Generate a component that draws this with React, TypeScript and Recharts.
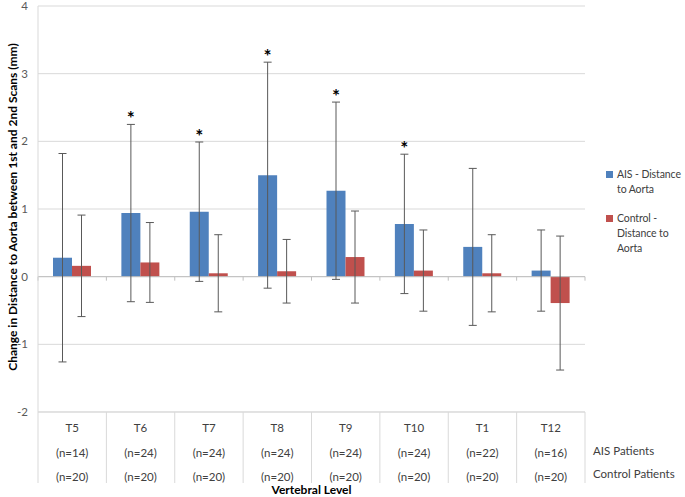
import React from 'react';
import {
  BarChart, Bar, XAxis, YAxis, CartesianGrid, ErrorBar, LabelList,
  ReferenceLine, Legend, Label,
} from 'recharts';

// Vertebral levels and sample sizes
const levels = ['T5', 'T6', 'T7', 'T8', 'T9', 'T10', 'T1', 'T12'];
const aisN = ['n=14', 'n=24', 'n=24', 'n=24', 'n=24', 'n=24', 'n=22', 'n=16'];
const controlN = ['n=20', 'n=20', 'n=20', 'n=20', 'n=20', 'n=20', 'n=20', 'n=20'];

// Mean change (mm) and SD for each group
const aisMean = [0.28, 0.94, 0.96, 1.5, 1.27, 0.78, 0.44, 0.09];
const aisSd = [1.54, 1.31, 1.03, 1.67, 1.31, 1.03, 1.16, 0.6];
const controlMean = [0.16, 0.21, 0.05, 0.08, 0.29, 0.09, 0.05, -0.39];
const controlSd = [0.75, 0.59, 0.57, 0.47, 0.68, 0.6, 0.57, 0.99];
const significant = [false, true, true, true, true, true, false, false];

const yTicks = [-2, -1, 0, 1, 2, 3, 4];

const AIS_COLOR = '#4F81BD';
const CONTROL_COLOR = '#C0504D';
const GRID = '#d9d9d9';
const FONT = 'Lato, "Open Sans", sans-serif';

const data = levels.map((level, i) => ({
  level,
  ais: aisMean[i],
  aisErr: aisSd[i],
  control: controlMean[i],
  controlErr: controlSd[i],
}));

// table under the plot: level, AIS n, control n, with cell borders
const TableTick = (props: any) => {
  const { x, y, index, payload, width, visibleTicksCount } = props;
  const half = width / visibleTicksCount / 2;
  const last = index === visibleTicksCount - 1;
  const txt = { fontFamily: FONT, fontSize: 11.5, fill: '#404040', textAnchor: 'middle' as const };
  return (
    <g>
      <text x={x} y={y + 20} {...txt}>{payload.value}</text>
      <text x={x} y={y + 45} {...txt}>({aisN[index]})</text>
      <text x={x} y={y + 69} {...txt}>({controlN[index]})</text>
      {index === 0 && <line x1={x - half} x2={x - half} y1={y} y2={y + 71} stroke={GRID} />}
      <line x1={x + half} x2={x + half} y1={y} y2={y + 71} stroke={GRID} />
      {last && (
        <>
          <text x={x + half + 8} y={y + 43} fontFamily={FONT} fontSize={11.5} fill="#404040">AIS Patients</text>
          <text x={x + half + 8} y={y + 66} fontFamily={FONT} fontSize={11.5} fill="#404040">Control Patients</text>
        </>
      )}
    </g>
  );
};

// zero line with small tick marks at category boundaries
const ZeroLine = (props: any) => {
  const { x1, x2, y1 } = props;
  const n = levels.length;
  const step = (x2 - x1) / n;
  return (
    <g>
      <line x1={x1} x2={x2} y1={y1} y2={y1} stroke="#bfbfbf" />
      {Array.from({ length: n + 1 }, (_, i) => (
        <line key={i} x1={x1 + i * step} x2={x1 + i * step} y1={y1} y2={y1 + 4} stroke="#bfbfbf" />
      ))}
    </g>
  );
};

const Asterisk = (props: any) => {
  const { x, y, width, height, value, index } = props;
  if (!significant[index] || !value) return null;
  const perUnit = height / value;
  const top = y - aisSd[index] * perUnit;
  return (
    <text x={x + width / 2} y={top + 1} textAnchor="middle" fontFamily={FONT} fontSize={19} fontWeight="bold" fill="#000">*</text>
  );
};

const LegendBox = (props: any) => {
  const { payload } = props;
  return (
    <div style={{ fontFamily: FONT, fontSize: 10.5, color: '#404040', lineHeight: '15px', letterSpacing: '-0.1px' }}>
      {(payload || []).map((p: any, i: number) => (
        <div key={i} style={{ display: 'flex', alignItems: 'flex-start', marginBottom: i === 0 ? 14 : 0 }}>
          <span style={{ width: 7, height: 7, background: p.color, marginTop: 4, marginRight: 4, flex: 'none' }} />
          <span style={{ width: 70, flex: 'none' }}>{p.value}</span>
        </div>
      ))}
    </div>
  );
};

const YTitle = (props: any) => {
  const vb = props.viewBox || { x: 0, y: 6, width: 38, height: 406 };
  const cx = vb.x + 12;
  const cy = vb.y + vb.height / 2 - 2;
  return (
    <text x={cx} y={cy} transform={`rotate(-90, ${cx}, ${cy})`} textAnchor="middle" dominantBaseline="central"
      fontFamily={FONT} fontSize={12} fontWeight="bold" fill="#000">
      Change in Distance to Aorta between 1st and 2nd Scans (mm)
    </text>
  );
};

export default function App() {
  return (
    <div style={{ width: 685, height: 497, background: '#fff' }}>
      <style>{'body{margin:0}'}</style>
      <BarChart
        width={685}
        height={497}
        data={data}
        margin={{ top: 6, right: 100, bottom: 0, left: 0 }}
        barCategoryGap={15}
        barGap={0}
      >
        <CartesianGrid vertical={false} stroke={GRID} />
        <XAxis
          dataKey="level"
          height={85}
          interval={0}
          tickLine={false}
          tickSize={0}
          tickMargin={0}
          axisLine={{ stroke: GRID }}
          tick={<TableTick />}
        >
          <Label value="Vertebral Level" position="insideBottom" offset={3}
            style={{ fontFamily: FONT, fontSize: 12, fontWeight: 'bold', fill: '#000' }} />
        </XAxis>
        <YAxis
          width={38}
          domain={[-2, 4]}
          ticks={yTicks}
          interval={0}
          tickLine={false}
          tickSize={0}
          tickMargin={10}
          axisLine={{ stroke: GRID }}
          tick={{ fontFamily: FONT, fontSize: 11.5, fill: '#595959' }}
        >
          <Label content={<YTitle />} position="insideLeft" />
        </YAxis>
        <ReferenceLine y={0} shape={<ZeroLine />} />
        <Legend
          layout="horizontal"
          verticalAlign="middle"
          align="center"
          content={<LegendBox />}
          wrapperStyle={{ left: 606, top: 167, width: 79 }}
        />
        <Bar dataKey="ais" name="AIS - Distance to Aorta" fill={AIS_COLOR} isAnimationActive={false}>
          <ErrorBar dataKey="aisErr" width={4} stroke="#595959" strokeWidth={1} />
          <LabelList dataKey="ais" content={<Asterisk />} />
        </Bar>
        <Bar dataKey="control" name="Control - Distance to Aorta" fill={CONTROL_COLOR} isAnimationActive={false}>
          <ErrorBar dataKey="controlErr" width={4} stroke="#595959" strokeWidth={1} />
        </Bar>
      </BarChart>
    </div>
  );
}
